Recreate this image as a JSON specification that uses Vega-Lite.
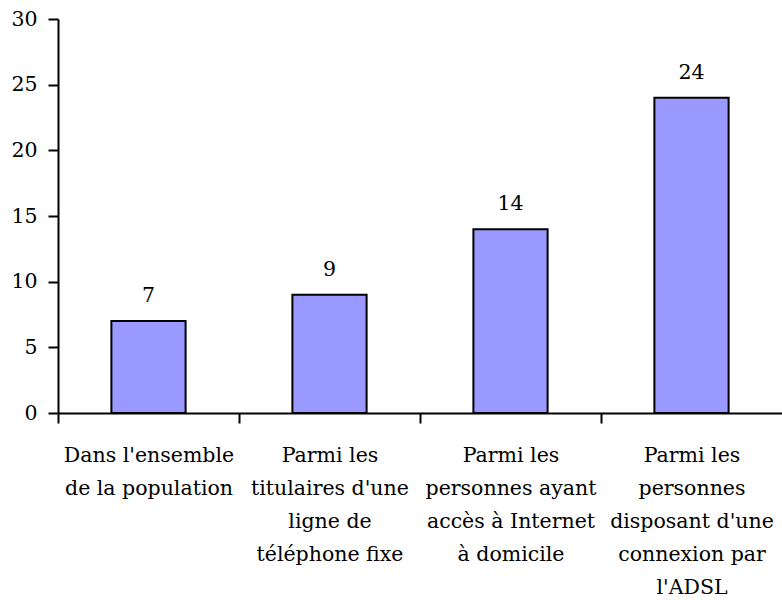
{
  "$schema": "https://vega.github.io/schema/vega-lite/v6.json",
  "width": 724,
  "height": 394,
  "autosize": {"type": "none"},
  "padding": {"left": 58, "top": 19, "right": 0, "bottom": 187},
  "background": "white",
  "config": {
    "view": {"stroke": null}
  },
  "data": {
    "values": [
      {"cat": "Dans l'ensemble\nde la population", "value": 7},
      {"cat": "Parmi les\ntitulaires d'une\nligne de\ntéléphone fixe", "value": 9},
      {"cat": "Parmi les\npersonnes ayant\naccès à Internet\nà domicile", "value": 14},
      {"cat": "Parmi les\npersonnes\ndisposant d'une\nconnexion par\nl'ADSL", "value": 24}
    ]
  },
  "encoding": {
    "x": {
      "field": "cat", "type": "nominal", "sort": null,
      "scale": {"paddingInner": 0.59, "paddingOuter": 0.295},
      "axis": {"title": null, "labelAngle": 0, "labelExpr": "split(datum.label, '\\n')", "labelLineHeight": 33, "labelPadding": 22, "bandPosition": 0, "tickOffset": -53.4, "labelOffset": 53.4, "ticks": true, "tickSize": 10, "tickWidth": 2, "tickColor": "black", "domainColor": "black", "domainWidth": 2, "labelBaseline": "top", "labelFont": "DejaVu Serif", "labelFontSize": 20.5, "labelLimit": 0, "labelColor": "black", "grid": false}
    },
    "y": {
      "field": "value", "type": "quantitative",
      "scale": {"domain": [0, 30], "nice": false},
      "axis": {"title": null, "values": [0, 5, 10, 15, 20, 25, 30], "labelPadding": 11, "tickSize": 10, "tickWidth": 2, "tickColor": "black", "domainColor": "black", "domainWidth": 2, "labelFont": "DejaVu Serif", "labelFontSize": 20.5, "labelColor": "black", "grid": false}
    }
  },
  "layer": [
    {"mark": {"type": "bar", "color": "#9999FF", "stroke": "black", "strokeWidth": 2}},
    {"mark": {"type": "text", "baseline": "alphabetic", "dy": -19, "fontSize": 20.5, "font": "DejaVu Serif", "color": "black"}, "encoding": {"text": {"field": "value", "type": "quantitative"}}}
  ]
}
